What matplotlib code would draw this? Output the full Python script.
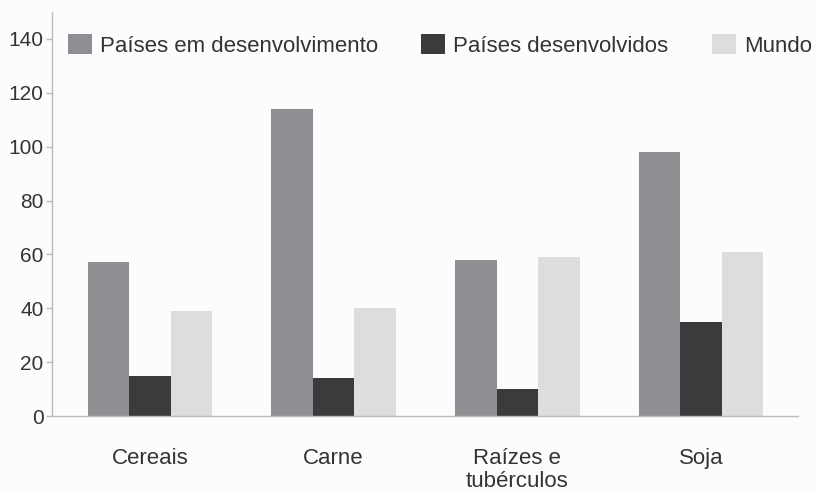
import numpy as np
import matplotlib.pyplot as plt

plt.rcParams['font.family'] = ['Liberation Sans', 'DejaVu Sans']

categorias = ['Cereais', 'Carne', 'Raízes e\ntubérculos', 'Soja']
series = ['Países em desenvolvimento', 'Países desenvolvidos', 'Mundo']
em_desenvolvimento = [57, 114, 58, 98]
desenvolvidos = [15, 14, 10, 35]
mundo = [39, 40, 59, 61]
cores = ['#8f8f93', '#3b3b3d', '#dddddf']

fig = plt.figure(figsize=(8.16, 4.92), dpi=100, facecolor='#fcfcfc')
ax = fig.add_axes([52/816, 76/492, (798-52)/816, (416-12)/492])
ax.set_facecolor('#fcfcfc')

x = np.arange(len(categorias))
w = 0.226
for i, (vals, lab, c) in enumerate(zip([em_desenvolvimento, desenvolvidos, mundo], series, cores)):
    ax.bar(x + (i - 1) * w, vals, w, color=c, label=lab, edgecolor='none')

ax.set_xlim(-0.533, 3.527)
ax.set_ylim(0, 150)
ax.set_yticks(range(0, 141, 20))
ax.set_xticks(x)
ax.set_xticklabels(categorias, fontsize=16, color='#333333', linespacing=1.1)
ax.tick_params(axis='x', length=0, pad=23)
ax.tick_params(axis='y', length=4, width=1, color='#bbbbbb', labelsize=15,
               labelcolor='#333333', pad=2)

for s in ['top', 'right']:
    ax.spines[s].set_visible(False)
for s in ['left', 'bottom']:
    ax.spines[s].set_color('#bbbbbb')
    ax.spines[s].set_linewidth(1)

fig.legend(loc='upper left', bbox_to_anchor=(68/816, 1 - 34/492), ncol=3,
           frameon=False, fontsize=16, borderpad=0, borderaxespad=0,
           handlelength=1.08, handleheight=1.03, handletextpad=0.36,
           columnspacing=1.95, labelcolor='#333333')

fig.savefig('out.png', dpi=100, facecolor=fig.get_facecolor())
